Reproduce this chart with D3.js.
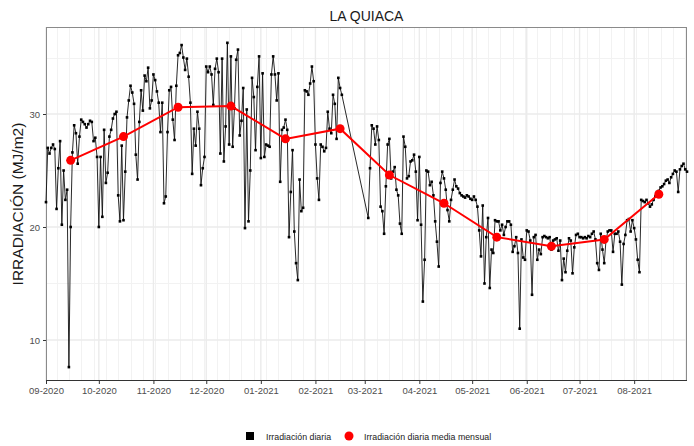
<!DOCTYPE html>
<html><head><meta charset="utf-8">
<script src="https://cdn.jsdelivr.net/npm/d3@7/dist/d3.min.js"></script>
<style>body{margin:0;background:#fff}svg{display:block;font-family:"Liberation Sans",Arial,sans-serif}</style>
</head><body><svg id="c" width="694" height="446"></svg>
<script>
// ---------- DATA ----------
const title = "LA QUIACA";
const yTitle = "IRRADIACIÓN (MJ/m2)";
const legendLabels = ["Irradiación diaria", "Irradiación diaria media mensual"];
const monthKeys = ["2020-09","2020-10","2020-11","2020-12","2021-01","2021-02","2021-03","2021-04","2021-05","2021-06","2021-07","2021-08"];
const tickLabels = ["09-2020","10-2020","11-2020","12-2020","01-2021","02-2021","03-2021","04-2021","05-2021","06-2021","07-2021","08-2021"];
const yTicks = [10, 20, 30];
// first day of each month that has data
const firstDay = [1,1,1,1,1,1,3,1,1,1,1,1];
// daily irradiation (MJ/m2), one array per month
const d2020_09 = [22.2,27.0,26.5,27.0,27.3,26.9,21.6,25.2,27.6,20.2,25.0,22.4,23.3,7.6,20.0,26.6,29.0,28.3,25.6,28.0,29.5,29.3,29.1,28.8,29.1,29.4,29.3,27.6,27.9,26.2];
const d2020_10 = [20.0,26.2,20.9,28.6,23.9,24.8,28.0,28.6,29.6,30.0,30.2,22.8,20.5,27.2,20.6,24.9,29.7,31.2,32.5,31.9,30.9,26.4,24.2,29.3,32.1,30.3,33.4,32.9,34.1,30.5,31.2];
const d2020_11 = [33.5,33.0,32.0,31.0,28.4,31.0,22.1,22.7,28.4,32.1,32.4,29.5,27.7,32.5,35.2,35.4,36.1,35.0,33.9,34.9,33.3,31.0,24.7,28.7,27.2,30.2,28.7,23.7,25.2,26.2];
const d2020_12 = [34.2,33.7,34.2,33.5,30.8,34.0,34.9,33.7,26.5,34.9,25.8,28.9,36.3,27.3,35.1,27.1,30.5,34.8,35.7,28.1,29.4,32.3,19.9,30.4,20.5,25.0,33.2,31.5,26.8,32.4,35.1];
const d2021_01 = [26.1,33.6,26.2,27.3,27.2,27.1,33.5,35.1,33.5,31.2,33.6,24.0,28.6,28.8,29.5,28.6,19.1,23.1,26.8,19.6,16.8,15.3,24.2,21.4,21.7,32.1,32.0,31.7,32.7,34.2,32.9];
const d2021_02 = [27.3,24.3,22.4,27.3,27.1,26.7,27.0,30.2,28.7,28.3,31.7,30.9,27.8,33.2,32.3,31.7];
const d2021_03 = [20.8,25.2,29.0,28.7,27.3,28.9,27.7,21.8,21.4,19.4,23.6,27.3,27.8,24.3,24.9,25.3,23.3,22.8,20.3,19.4,28.0,27.1,24.3,24.5,25.8,25.9,26.4,24.9,20.6];
const d2021_04 = [26.2,20.2,13.4,17.1,25.0,24.9,23.7,24.0,22.8,20.5,18.7,16.5,23.9,24.9,24.3,23.3,21.5,20.5,22.4,23.3,24.2,23.6,23.4,23.0,22.8,22.7,22.6,22.8,22.7,22.5];
const d2021_05 = [22.4,22.7,22.4,21.8,19.7,17.4,21.9,15.0,19.1,20.8,14.6,18.0,17.7,20.6,20.5,20.5,19.7,20.2,19.3,20.0,20.5,20.5,20.2,17.8,18.3,19.1,17.7,11.0,18.9,17.3,17.1];
const d2021_06 = [19.7,19.6,18.8,14.0,19.1,19.3,17.1,18.0,17.6,19.1,19.2,19.1,19.0,19.1,18.0,18.8,18.9,19.0,17.9,18.8,15.3,17.2,16.0,17.9,19.0,18.8,15.9,18.2,19.3,19.4];
const d2021_07 = [19.1,19.1,19.0,19.1,19.0,19.2,19.1,19.4,19.6,18.9,16.8,16.2,19.4,18.0,16.8,18.8,19.6,19.7,19.7,17.8,19.4,19.4,19.6,18.7,14.9,18.5,19.3,20.6,20.7,19.6,20.6];
const d2021_08 = [19.9,18.9,17.1,16.0,22.4,22.3,22.2,22.4,22.1,21.8,22.0,22.4,22.7,23.1,23.2,23.5,23.6,23.8,24.1,24.2,23.9,24.4,24.7,25.0,24.9,23.1,25.1,25.4,25.6,25.1,24.9];
const dailyByMonth = [d2020_09,d2020_10,d2020_11,d2020_12,d2021_01,d2021_02,d2021_03,d2021_04,d2021_05,d2021_06,d2021_07,d2021_08];
// monthly mean of daily irradiation, plotted on the 15th
const monthlyMean = [25.9,28.0,30.6,30.7,27.8,28.7,24.6,22.1,19.1,18.3,18.9,22.9];

// ---------- BUILD ----------
const parseMonth = d3.utcParse("%Y-%m");
const daily = [];
dailyByMonth.forEach((arr, i) => {
  const m0 = parseMonth(monthKeys[i]);
  arr.forEach((v, j) => daily.push({date: d3.utcDay.offset(m0, firstDay[i] - 1 + j), value: v}));
});
const means = monthlyMean.map((v, i) => ({date: d3.utcDay.offset(parseMonth(monthKeys[i]), 14), value: v}));

const svg = d3.select("#c");
const L = 46, R = 687, T = 27, B = 381;
const x = d3.scaleUtc().domain([new Date(Date.UTC(2020,8,1)), new Date(Date.UTC(2021,7,31))]).range([L, R]);
const y = d3.scaleLinear().domain([6.37, 37.7]).range([B, T]);

// grid
const g = svg.append("g");
const majors = monthKeys.map(parseMonth);
const majorSet = new Set(majors.map(d => +d));
const minorsX = d3.utcMonday.range(new Date(Date.UTC(2020,8,1)), new Date(Date.UTC(2021,8,1))).filter(d => !majorSet.has(+d));
g.selectAll(".mnx").data(minorsX).join("line")
  .attr("x1", d => Math.round(x(d)) + 0.5).attr("x2", d => Math.round(x(d)) + 0.5).attr("y1", T).attr("y2", B)
  .attr("stroke", "#f2f2f2").attr("stroke-width", 1);
const minorsY = [15, 25, 35];
g.selectAll(".mny").data(minorsY).join("line")
  .attr("x1", L).attr("x2", R).attr("y1", d => Math.round(y(d)) + 0.5).attr("y2", d => Math.round(y(d)) + 0.5)
  .attr("stroke", "#f2f2f2").attr("stroke-width", 1);
g.selectAll(".mjx").data(majors).join("line")
  .attr("x1", d => x(d)).attr("x2", d => x(d)).attr("y1", T).attr("y2", B)
  .attr("stroke", "#ebebeb").attr("stroke-width", 1.4);
g.selectAll(".mjy").data(yTicks).join("line")
  .attr("x1", L).attr("x2", R).attr("y1", d => y(d)).attr("y2", d => y(d))
  .attr("stroke", "#ebebeb").attr("stroke-width", 1.4);

// axes
const xAxis = d3.axisBottom(x).tickValues(majors).tickFormat((d, i) => tickLabels[i]).tickSize(3).tickPadding(3);
const ax = svg.append("g").attr("transform", `translate(0,${B})`).call(xAxis);
ax.select(".domain").remove();
ax.selectAll("line").attr("stroke", "#333");
ax.selectAll("text").attr("fill", "#4d4d4d").attr("font-size", 9.5).attr("font-family", "Liberation Sans, Arial, sans-serif");
const yAxis = d3.axisLeft(y).tickValues(yTicks).tickSize(3).tickPadding(3);
const ay = svg.append("g").attr("transform", `translate(${L},0)`).call(yAxis);
ay.select(".domain").remove();
ay.selectAll("line").attr("stroke", "#333");
ay.selectAll("text").attr("fill", "#4d4d4d").attr("font-size", 9.5).attr("font-family", "Liberation Sans, Arial, sans-serif");

// panel border
svg.append("rect").attr("x", L + 0.5).attr("y", T + 0.5).attr("width", R - L - 1).attr("height", B - T - 1)
  .attr("fill", "none").attr("stroke", "#8a8a8a").attr("stroke-width", 1);
svg.append("line").attr("x1", L).attr("x2", R).attr("y1", B - 0.5).attr("y2", B - 0.5).attr("stroke", "#333");

// daily line + points
const line = d3.line().x(d => x(d.date)).y(d => y(d.value));
svg.append("path").datum(daily).attr("d", line).attr("fill", "none").attr("stroke", "#111").attr("stroke-width", 0.9);
svg.selectAll(".dp").data(daily).join("rect")
  .attr("x", d => x(d.date) - 1.3).attr("y", d => y(d.value) - 1.3).attr("width", 2.6).attr("height", 2.6).attr("fill", "#000");

// monthly mean line + points
svg.append("path").datum(means).attr("d", line).attr("fill", "none").attr("stroke", "#ff0000").attr("stroke-width", 2);
svg.selectAll(".mp").data(means).join("circle")
  .attr("cx", d => x(d.date)).attr("cy", d => y(d.value)).attr("r", 4.5).attr("fill", "#ff0000");

// title
svg.append("text").attr("x", (L + R) / 2).attr("y", 21).attr("text-anchor", "middle")
  .attr("font-size", 14).attr("fill", "#1a1a1a").text(title);
svg.append("text").attr("transform", `translate(23,${(T + B) / 2}) rotate(-90)`).attr("text-anchor", "middle")
  .attr("font-size", 15.5).attr("fill", "#1a1a1a").text(yTitle);

// legend
const lg = svg.append("g");
lg.append("rect").attr("x", 246).attr("y", 432).attr("width", 8).attr("height", 8).attr("fill", "#000");
lg.append("text").attr("x", 266).attr("y", 439.5).attr("font-size", 8.8).attr("fill", "#1a1a1a").text(legendLabels[0]);
lg.append("circle").attr("cx", 349).attr("cy", 436).attr("r", 4.5).attr("fill", "#ff0000");
lg.append("text").attr("x", 364).attr("y", 439.5).attr("font-size", 8.8).attr("fill", "#1a1a1a").text(legendLabels[1]);
</script></body></html>
